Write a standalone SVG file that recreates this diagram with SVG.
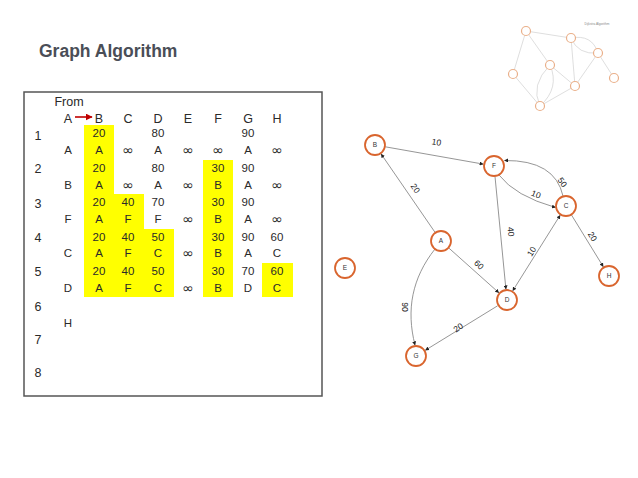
<svg xmlns="http://www.w3.org/2000/svg" width="638" height="478" viewBox="0 0 638 478">
<style>
.title{font-family:"Liberation Sans",Arial,sans-serif;font-weight:bold;font-size:17.5px;fill:#4a4e57}
.t{font-family:"Liberation Sans",Arial,sans-serif;font-size:11.5px;fill:#2a2a2a;text-anchor:middle}
.h{font-family:"Liberation Sans",Arial,sans-serif;font-size:12.5px;fill:#2a2a2a;text-anchor:middle}
.inf{font-family:"DejaVu Sans",sans-serif;font-size:14px;fill:#2a2a2a;text-anchor:middle}
.hl{fill:#ffff00}
.node circle{fill:#fff;stroke:#d9652e;stroke-width:1.8}
.node text{font-family:"Liberation Sans",Arial,sans-serif;font-size:6.5px;fill:#333;text-anchor:middle}
.edge{fill:none;stroke:#8a8a8a;stroke-width:0.9}
.el{font-family:"Liberation Sans",Arial,sans-serif;font-size:8.5px;fill:#222;text-anchor:middle}
.tn{fill:#fff;stroke:#eab08a;stroke-width:1.2}
.te{fill:none;stroke:#c8c8c8;stroke-width:0.6}
</style>
<defs>
<marker id="ah" viewBox="0 0 10 10" refX="9" refY="5" markerWidth="4" markerHeight="4" markerUnits="userSpaceOnUse" orient="auto-start-reverse">
<path d="M0,0 L10,5 L0,10 z" fill="#222"/>
</marker>
<marker id="red" viewBox="0 0 10 10" refX="9" refY="5" markerWidth="7" markerHeight="7" markerUnits="userSpaceOnUse" orient="auto">
<path d="M0,0 L10,5 L0,10 z" fill="#c00000"/>
</marker>
</defs>
<rect width="638" height="478" fill="#fff"/>
<text class="title" x="39" y="56.5">Graph Algorithm</text>

<g id="table">
<rect x="24" y="92" width="298" height="304" fill="#fff" stroke="#555" stroke-width="1.5"/>
<rect class="hl" x="84" y="125" width="30" height="172"/>
<rect class="hl" x="114" y="194" width="30" height="103"/>
<rect class="hl" x="144" y="229" width="30" height="68"/>
<rect class="hl" x="203" y="160" width="30" height="137"/>
<rect class="hl" x="262" y="263" width="31" height="34"/>
<text class="h" x="69" y="106">From</text>
<g class="h">
<text x="68" y="122.5">A</text><text x="99" y="122.5">B</text><text x="128" y="122.5">C</text><text x="158" y="122.5">D</text><text x="188" y="122.5">E</text><text x="218" y="122.5">F</text><text x="248" y="122.5">G</text><text x="277" y="122.5">H</text>
</g>
<line x1="75" y1="117" x2="92" y2="117" stroke="#c00000" stroke-width="1.6" marker-end="url(#red)"/>
<g>
<text class="h" x="38" y="139.5">1</text><text class="h" x="38" y="172.5">2</text><text class="h" x="38" y="207.5">3</text><text class="h" x="38" y="241.5">4</text><text class="h" x="38" y="275.5">5</text><text class="h" x="38" y="310.5">6</text><text class="h" x="38" y="343.5">7</text><text class="h" x="38" y="376.5">8</text>
</g>
<g>
<text class="t" x="68" y="154">A</text><text class="t" x="68" y="189">B</text><text class="t" x="68" y="223">F</text><text class="t" x="68" y="257">C</text><text class="t" x="68" y="292">D</text><text class="t" x="68" y="327">H</text>
</g>
<!-- row 1 -->
<text class="t" x="99" y="137">20</text><text class="t" x="158" y="137">80</text><text class="t" x="248" y="137">90</text>
<text class="t" x="99" y="154">A</text><text class="inf" x="128" y="155">∞</text><text class="t" x="158" y="154">A</text><text class="inf" x="188" y="155">∞</text><text class="inf" x="218" y="155">∞</text><text class="t" x="248" y="154">A</text><text class="inf" x="277" y="155">∞</text>
<!-- row 2 -->
<text class="t" x="99" y="172">20</text><text class="t" x="158" y="172">80</text><text class="t" x="218" y="172">30</text><text class="t" x="248" y="172">90</text>
<text class="t" x="99" y="189">A</text><text class="inf" x="128" y="190">∞</text><text class="t" x="158" y="189">A</text><text class="inf" x="188" y="190">∞</text><text class="t" x="218" y="189">B</text><text class="t" x="248" y="189">A</text><text class="inf" x="277" y="190">∞</text>
<!-- row 3 -->
<text class="t" x="99" y="206">20</text><text class="t" x="128" y="206">40</text><text class="t" x="158" y="206">70</text><text class="t" x="218" y="206">30</text><text class="t" x="248" y="206">90</text>
<text class="t" x="99" y="223">A</text><text class="t" x="128" y="223">F</text><text class="t" x="158" y="223">F</text><text class="inf" x="188" y="224">∞</text><text class="t" x="218" y="223">B</text><text class="t" x="248" y="223">A</text><text class="inf" x="277" y="224">∞</text>
<!-- row 4 -->
<text class="t" x="99" y="241">20</text><text class="t" x="128" y="241">40</text><text class="t" x="158" y="241">50</text><text class="t" x="218" y="241">30</text><text class="t" x="248" y="241">90</text><text class="t" x="277" y="241">60</text>
<text class="t" x="99" y="257">A</text><text class="t" x="128" y="257">F</text><text class="t" x="158" y="257">C</text><text class="inf" x="188" y="258">∞</text><text class="t" x="218" y="257">B</text><text class="t" x="248" y="257">A</text><text class="t" x="277" y="257">C</text>
<!-- row 5 -->
<text class="t" x="99" y="275">20</text><text class="t" x="128" y="275">40</text><text class="t" x="158" y="275">50</text><text class="t" x="218" y="275">30</text><text class="t" x="248" y="275">70</text><text class="t" x="277" y="275">60</text>
<text class="t" x="99" y="292">A</text><text class="t" x="128" y="292">F</text><text class="t" x="158" y="292">C</text><text class="inf" x="188" y="293">∞</text><text class="t" x="218" y="292">B</text><text class="t" x="248" y="292">D</text><text class="t" x="277" y="292">C</text>
</g>

<g id="connectors">
<line class="edge" x1="385.3" y1="146.8" x2="483.2" y2="164.1" marker-end="url(#ah)"/>
<line class="edge" x1="435" y1="232.3" x2="381.2" y2="154.1" marker-end="url(#ah)"/>
<line class="edge" x1="448.8" y1="248" x2="498.8" y2="292.7" marker-end="url(#ah)"/>
<line class="edge" x1="495" y1="176.5" x2="505.9" y2="289" marker-end="url(#ah)"/>
<line class="edge" x1="512.8" y1="290.7" x2="560.1" y2="215.3" marker-start="url(#ah)" marker-end="url(#ah)"/>
<line class="edge" x1="571.5" y1="215" x2="603.2" y2="266.6" marker-end="url(#ah)"/>
<line class="edge" x1="497.6" y1="305.8" x2="425.4" y2="350.2" marker-end="url(#ah)"/>
<path class="edge" d="M435,249 C412,278 406,310 415,345" marker-end="url(#ah)"/>
<path class="edge" d="M499,175 Q515,196 555.5,207.5" marker-end="url(#ah)"/>
<path class="edge" d="M563,196 Q555,160 504.5,160.5" marker-end="url(#ah)"/>
<text class="el" transform="translate(436,145) rotate(10)">10</text>
<text class="el" transform="translate(413,190) rotate(56)">20</text>
<text class="el" transform="translate(477,267) rotate(42)">60</text>
<text class="el" transform="translate(508,232) rotate(85)">40</text>
<text class="el" transform="translate(534,253) rotate(-57)">10</text>
<text class="el" transform="translate(535,197) rotate(22)">10</text>
<text class="el" transform="translate(560,184) rotate(55)">50</text>
<text class="el" transform="translate(590,238) rotate(58)">20</text>
<text class="el" transform="translate(460,330) rotate(-35)">20</text>
<text class="el" transform="translate(402,307) rotate(90)">90</text>
</g>

<g id="node-B" class="node"><circle cx="375" cy="145" r="10"/><text x="375" y="147.3">B</text></g>
<g id="node-F" class="node"><circle cx="494" cy="166" r="10"/><text x="494" y="168.3">F</text></g>
<g id="node-C" class="node"><circle cx="566" cy="206" r="10"/><text x="566" y="208.3">C</text></g>
<g id="node-A" class="node"><circle cx="441" cy="241" r="10"/><text x="441" y="243.3">A</text></g>
<g id="node-E" class="node"><circle cx="345" cy="268" r="10"/><text x="345" y="270.3">E</text></g>
<g id="node-D" class="node"><circle cx="507" cy="300" r="10"/><text x="507" y="302.3">D</text></g>
<g id="node-H" class="node"><circle cx="609" cy="276" r="10"/><text x="609" y="278.3">H</text></g>
<g id="node-G" class="node"><circle cx="416" cy="356" r="10"/><text x="416" y="358.3">G</text></g>

<g id="thumbnail">
<text x="597" y="25" font-family="Liberation Sans,Arial,sans-serif" font-size="3.2" fill="#888" text-anchor="middle">Dijkstra Algorithm</text>
<g class="te">
<line x1="526" y1="31" x2="571" y2="38"/>
<line x1="526" y1="31" x2="513" y2="74"/>
<line x1="526" y1="31" x2="550" y2="65"/>
<path d="M571,38 Q592,34 598,53"/>
<path d="M571,38 Q578,55 598,53"/>
<line x1="571" y1="38" x2="575" y2="86"/>
<line x1="598" y1="53" x2="575" y2="86"/>
<line x1="598" y1="53" x2="614" y2="78"/>
<line x1="550" y1="65" x2="575" y2="86"/>
<path d="M550,65 Q530,85 540,106"/>
<path d="M550,65 Q560,88 540,106"/>
<line x1="513" y1="74" x2="540" y2="106"/>
<line x1="575" y1="86" x2="540" y2="106"/>
</g>
<circle class="tn" cx="526" cy="31" r="4.5"/>
<circle class="tn" cx="571" cy="38" r="4.5"/>
<circle class="tn" cx="598" cy="53" r="4.5"/>
<circle class="tn" cx="550" cy="65" r="4.5"/>
<circle class="tn" cx="513" cy="74" r="4.5"/>
<circle class="tn" cx="575" cy="86" r="4.5"/>
<circle class="tn" cx="614" cy="78" r="4.5"/>
<circle class="tn" cx="540" cy="106" r="4.5"/>
</g>
</svg>
